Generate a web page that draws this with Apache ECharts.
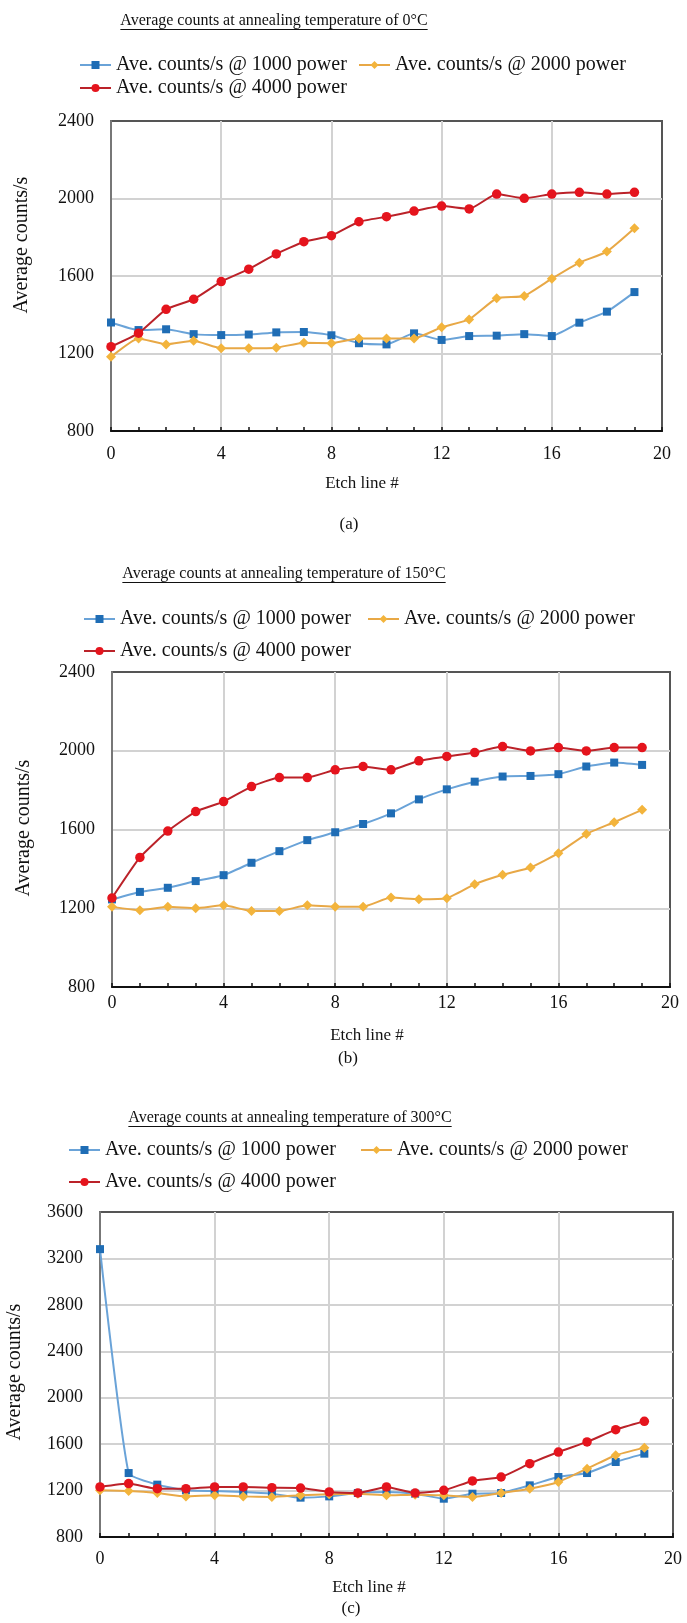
<!DOCTYPE html>
<html>
<head>
<meta charset="utf-8">
<script src="https://cdn.jsdelivr.net/npm/echarts@6/dist/echarts.min.js"></script>
<style>
  html, body { margin: 0; padding: 0; background: #ffffff; }
  #chart { width: 687px; height: 1623px; }
</style>
</head>
<body>
<div id="chart"></div>
<script>
// Etch line index (x values shared by every series)
const etchLine = [0, 1, 2, 3, 4, 5, 6, 7, 8, 9, 10, 11, 12, 13, 14, 15, 16, 17, 18, 19];

// Series names
const seriesNames = [
  'Ave. counts/s @ 1000 power',
  'Ave. counts/s @ 2000 power',
  'Ave. counts/s @ 4000 power'
];

// Annealing temperature 0 °C
const t0_p1000 = [1360, 1321, 1325, 1300, 1295, 1298, 1309, 1311, 1294, 1253, 1247, 1304, 1270, 1290, 1292, 1300, 1290, 1359, 1416, 1517];
const t0_p2000 = [1183, 1278, 1247, 1266, 1227, 1227, 1230, 1256, 1253, 1278, 1278, 1278, 1335, 1376, 1485, 1497, 1586, 1669, 1726, 1846];
const t0_p4000 = [1235, 1305, 1428, 1480, 1571, 1635, 1714, 1777, 1808, 1880, 1906, 1935, 1961, 1946, 2023, 2001, 2023, 2032, 2023, 2032];

// Annealing temperature 150 °C
const t150_p1000 = [1245, 1283, 1304, 1338, 1368, 1431, 1490, 1546, 1586, 1628, 1682, 1753, 1804, 1843, 1869, 1872, 1881, 1920, 1940, 1928];
const t150_p2000 = [1207, 1190, 1207, 1200, 1215, 1186, 1186, 1215, 1208, 1208, 1254, 1246, 1251, 1322, 1370, 1407, 1480, 1577, 1637, 1700];
const t150_p4000 = [1252, 1458, 1592, 1691, 1742, 1818, 1864, 1864, 1903, 1920, 1903, 1949, 1971, 1991, 2021, 1999, 2016, 1999, 2016, 2016];

// Annealing temperature 300 °C
const t300_p1000 = [3280, 1351, 1251, 1202, 1196, 1188, 1173, 1139, 1150, 1179, 1188, 1173, 1130, 1173, 1179, 1245, 1317, 1351, 1446, 1518];
const t300_p2000 = [1202, 1196, 1179, 1150, 1159, 1150, 1145, 1159, 1168, 1173, 1159, 1165, 1159, 1145, 1179, 1216, 1274, 1389, 1504, 1570];
const t300_p4000 = [1231, 1260, 1216, 1216, 1231, 1231, 1225, 1222, 1188, 1179, 1231, 1179, 1202, 1283, 1317, 1432, 1532, 1619, 1725, 1797];

// Axis ranges
const xRange = { min: 0, max: 20, step: 4 };
const yRanges = [
  { min: 800, max: 2400, step: 400 },
  { min: 800, max: 2400, step: 400 },
  { min: 800, max: 3600, step: 400 }
];

const panelTitles = [
  'Average counts at annealing temperature of 0°C',
  'Average counts at annealing temperature of 150°C',
  'Average counts at annealing temperature of 300°C'
];
const panelTags = ['(a)', '(b)', '(c)'];
const xAxisName = 'Etch line #';
const yAxisName = 'Average counts/s';

const panelData = [
  [t0_p1000, t0_p2000, t0_p4000],
  [t150_p1000, t150_p2000, t150_p4000],
  [t300_p1000, t300_p2000, t300_p4000]
];

// ---- layout and styling ----
const FONT = '"Liberation Serif", "Times New Roman", serif';
const INK = '#111111';
const TITLE_SIZE = 16;
const LEGEND_SIZE = 20;
const TICK_SIZE = 18;
const NAME_SIZE = 17;

const layout = [
  { grid: { left: 111, top: 121, width: 551, height: 310 }, titleCx: 274, titleTop: 13,
    legendTop: [55, 78], legendLeft: [79, 358], yName: [22, 245], xName: [362, 484], tag: [349, 525], labelMargin: 14 },
  { grid: { left: 112, top: 672, width: 558, height: 315 }, titleCx: 284, titleTop: 566,
    legendTop: [609, 641], legendLeft: [83, 367], yName: [24, 828], xName: [367, 1036], tag: [348, 1059], labelMargin: 7 },
  { grid: { left: 100, top: 1212, width: 573, height: 325 }, titleCx: 290, titleTop: 1110,
    legendTop: [1140, 1172], legendLeft: [68, 360], yName: [15, 1372], xName: [369, 1588], tag: [351, 1609], labelMargin: 13 }
];

const seriesStyle = [
  { line: '#6aa3d8', marker: '#1f6db5', symbol: 'rect', size: 8 },
  { line: '#e8a846', marker: '#f3b43c', symbol: 'diamond', size: 10 },
  { line: '#bb2229', marker: '#e5141d', symbol: 'circle', size: 9.5 }
];

function textWidth(str, size) {
  const ctx = document.createElement('canvas').getContext('2d');
  ctx.font = size + 'px ' + FONT;
  return ctx.measureText(str).width;
}

const grids = [], xAxes = [], yAxes = [], series = [], titles = [], legends = [], graphics = [];

layout.forEach((L, i) => {
  grids.push(Object.assign({ show: true, borderColor: '#555555', borderWidth: 2, backgroundColor: '#ffffff' }, L.grid));

  xAxes.push({
    gridIndex: i, type: 'value', min: xRange.min, max: xRange.max, interval: xRange.step,
    axisLine: { show: true, onZero: false, lineStyle: { color: INK, width: 2 } },
    axisTick: { show: true, inside: true, length: 4, lineStyle: { color: INK, width: 1.5 } },
    minorTick: { show: true, splitNumber: 4, length: 4, lineStyle: { color: INK, width: 1.5 } },
    axisLabel: { margin: L.labelMargin, color: INK, fontSize: TICK_SIZE, fontFamily: FONT },
    splitLine: { show: true, showMinLine: false, showMaxLine: false, lineStyle: { color: '#d2d2d2', width: 2 } }
  });

  const yr = yRanges[i];
  yAxes.push({
    gridIndex: i, type: 'value', min: yr.min, max: yr.max, interval: yr.step,
    axisLine: { show: true, onZero: false, lineStyle: { color: '#777777', width: 2 } },
    axisTick: { show: false },
    axisLabel: { margin: 17, color: INK, fontSize: TICK_SIZE, fontFamily: FONT, formatter: v => String(v) },
    splitLine: { show: true, showMinLine: false, showMaxLine: false, lineStyle: { color: '#d2d2d2', width: 2 } }
  });

  panelData[i].forEach((vals, k) => {
    const st = seriesStyle[k];
    series.push({
      name: seriesNames[k], type: 'line', xAxisIndex: i, yAxisIndex: i,
      data: etchLine.map((x, j) => [x, vals[j]]),
      symbol: st.symbol, symbolSize: st.size, showSymbol: true,
      smooth: 0.15,
      lineStyle: { color: st.line, width: 2 },
      itemStyle: { color: st.marker },
      z: 2 + k
    });
  });

  // title with underline
  const tw = textWidth(panelTitles[i], TITLE_SIZE);
  titles.push({
    text: panelTitles[i], left: L.titleCx - tw / 2, top: L.titleTop, padding: 0,
    textStyle: { fontFamily: FONT, fontSize: TITLE_SIZE, fontWeight: 'normal', color: INK }
  });
  graphics.push({
    type: 'line', silent: true,
    shape: { x1: L.titleCx - tw / 2, y1: L.titleTop + 16.5, x2: L.titleCx + tw / 2, y2: L.titleTop + 16.5 },
    style: { stroke: INK, lineWidth: 1 }
  });

  // legend: two items on the first row, one on the second
  const legendItems = [
    { name: seriesNames[0], left: L.legendLeft[0], top: L.legendTop[0] },
    { name: seriesNames[1], left: L.legendLeft[1], top: L.legendTop[0] },
    { name: seriesNames[2], left: L.legendLeft[0], top: L.legendTop[1] }
  ];
  legendItems.forEach(it => {
    legends.push({
      data: [it.name], left: it.left, top: it.top, padding: 0,
      itemWidth: 31, itemHeight: 10, selectedMode: false,
      textStyle: { fontFamily: FONT, fontSize: LEGEND_SIZE, color: INK }
    });
  });

  // axis names and panel tag
  graphics.push({
    type: 'text', x: L.yName[0], y: L.yName[1], rotation: Math.PI / 2, silent: true,
    style: { text: yAxisName, fontFamily: FONT, fontSize: 20, fill: INK, align: 'center', verticalAlign: 'middle' }
  });
  graphics.push({
    type: 'text', x: L.xName[0], y: L.xName[1], silent: true,
    style: { text: xAxisName, fontFamily: FONT, fontSize: NAME_SIZE, fill: INK, align: 'center', verticalAlign: 'middle' }
  });
  graphics.push({
    type: 'text', x: L.tag[0], y: L.tag[1], silent: true,
    style: { text: panelTags[i], fontFamily: FONT, fontSize: NAME_SIZE, fill: INK, align: 'center', verticalAlign: 'middle' }
  });
});

const chart = echarts.init(document.getElementById('chart'), null, { renderer: 'canvas' });
chart.setOption({
  backgroundColor: '#ffffff',
  animation: false,
  title: titles,
  legend: legends,
  grid: grids,
  xAxis: xAxes,
  yAxis: yAxes,
  series: series,
  graphic: graphics
});
</script>
</body>
</html>
